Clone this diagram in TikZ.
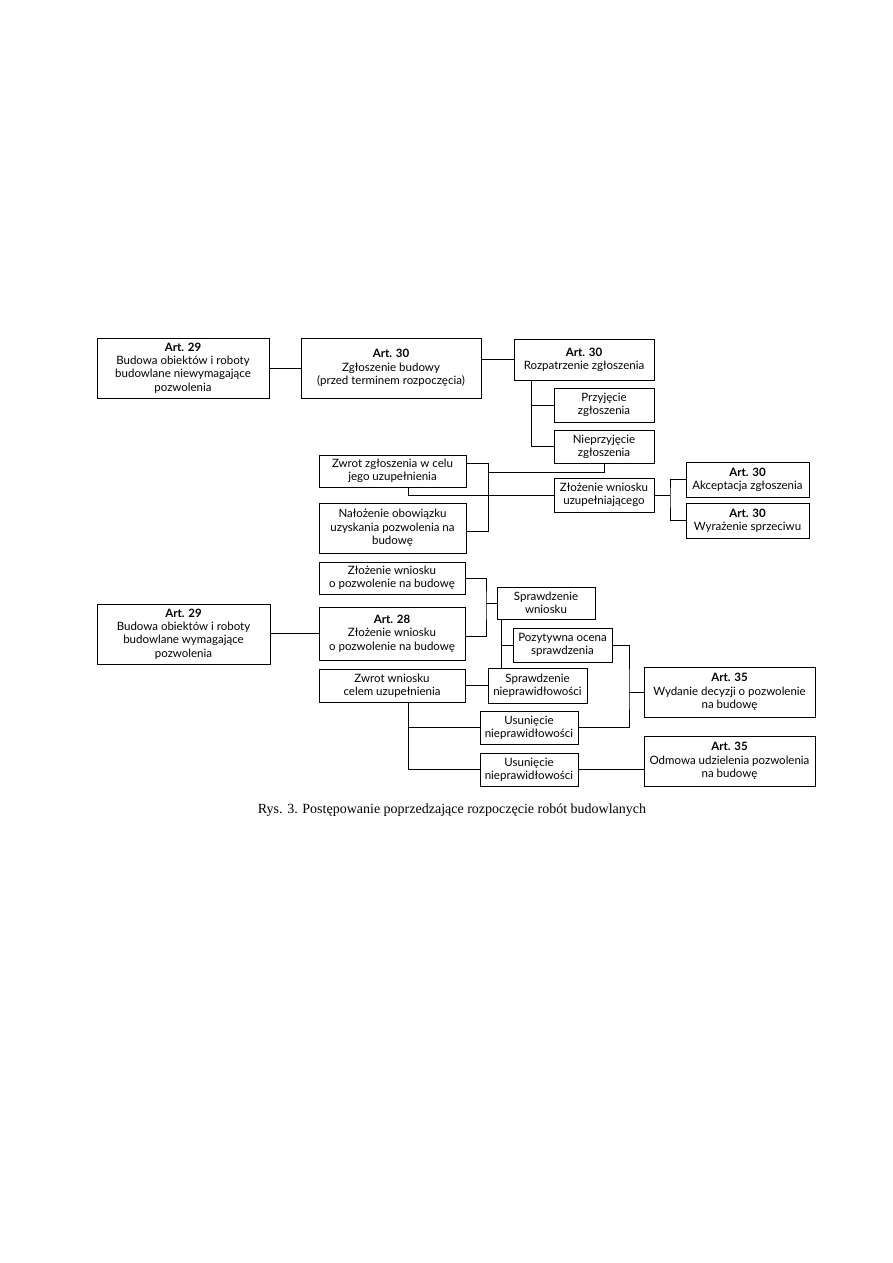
\documentclass[tikz,border=0pt]{standalone}
\usepackage{fontspec}
\setmainfont{Lato}
\newfontfamily\capfont{Liberation Serif}
\begin{document}
\begin{tikzpicture}[x=1pt,y=-1pt,
  box/.style={draw, line width=0.9pt, align=center, inner sep=0pt,
    font=\fontsize{11.5}{13.3}\selectfont},
  ln/.style={line width=0.8pt}]
\useasboundingbox (0,0) rectangle (893,1263);
\fill[white] (0,0) rectangle (893,1263);
% ---------- upper part ----------
\node[box, minimum width=172pt, minimum height=60pt] (A) at (183,368)
  {\textbf{Art. 29}\\Budowa obiektów i roboty\\budowlane niewymagające\\pozwolenia};
\node[box, minimum width=180pt, minimum height=60pt] (B) at (391,368)
  {\textbf{Art. 30}\\Zgłoszenie budowy\\(przed terminem rozpoczęcia)};
\node[box, minimum width=140pt, minimum height=41pt] (C) at (584,359.5)
  {\textbf{Art. 30}\\Rozpatrzenie zgłoszenia};
\node[box, minimum width=100pt, minimum height=34pt] (D) at (604,405)
  {Przyjęcie\\zgłoszenia};
\node[box, minimum width=100pt, minimum height=33pt] (E) at (604,446.5)
  {Nieprzyjęcie\\zgłoszenia};
\node[box, minimum width=147pt, minimum height=32pt] (F) at (392.5,471)
  {Zwrot zgłoszenia w celu\\jego uzupełnienia};
\node[box, minimum width=147pt, minimum height=50pt] (G) at (392.5,528)
  {Nałożenie obowiązku\\uzyskania pozwolenia na\\budowę};
\node[box, minimum width=100pt, minimum height=34pt] (H) at (604,495)
  {Złożenie wniosku\\uzupełniającego};
\node[box, minimum width=123pt, minimum height=35pt] (I) at (747.5,479.5)
  {\textbf{Art. 30}\\Akceptacja zgłoszenia};
\node[box, minimum width=123pt, minimum height=35pt] (J) at (747.5,520.5)
  {\textbf{Art. 30}\\Wyrażenie sprzeciwu};
% ---------- lower part ----------
\node[box, minimum width=173pt, minimum height=60pt] (K) at (183.5,634)
  {\textbf{Art. 29}\\Budowa obiektów i roboty\\budowlane wymagające\\pozwolenia};
\node[box, minimum width=146pt, minimum height=32pt] (L) at (392,578)
  {Złożenie wniosku\\o pozwolenie na budowę};
\node[box, minimum width=146pt, minimum height=53pt] (M) at (392,633.5)
  {\textbf{Art. 28}\\Złożenie wniosku\\o pozwolenie na budowę};
\node[box, minimum width=98pt, minimum height=32pt] (N) at (546,603)
  {Sprawdzenie\\wniosku};
\node[box, minimum width=99pt, minimum height=34pt] (O) at (562.5,645)
  {Pozytywna ocena\\sprawdzenia};
\node[box, minimum width=146pt, minimum height=33pt] (P) at (392,685.5)
  {Zwrot wniosku\\celem uzupełnienia};
\node[box, minimum width=99pt, minimum height=35pt] (Q) at (537.5,685.5)
  {Sprawdzenie\\nieprawidłowości};
\node[box, minimum width=98pt, minimum height=33pt] (R) at (529,727.5)
  {Usunięcie\\nieprawidłowości};
\node[box, minimum width=98pt, minimum height=33pt] (S) at (529,769.5)
  {Usunięcie\\nieprawidłowości};
\node[box, minimum width=171pt, minimum height=50pt] (T) at (729.5,692)
  {\textbf{Art. 35}\\Wydanie decyzji o pozwolenie\\na budowę};
\node[box, minimum width=171pt, minimum height=50pt] (U) at (729.5,761)
  {\textbf{Art. 35}\\Odmowa udzielenia pozwolenia\\na budowę};
\node[font=\capfont\fontsize{14}{16}\selectfont, inner sep=0pt] (cap) at (452,810)
  {Rys. 3. Postępowanie poprzedzające rozpoczęcie robót budowlanych};
% ---------- helper coordinates ----------
\coordinate (cv) at (531,0);
\coordinate (bus) at (488,531);
\coordinate (j1) at (488,472);
\coordinate (fx) at (408,0);
\coordinate (hj) at (670,495);
\coordinate (nb) at (486,603);
\coordinate (nx) at (501,0);
\coordinate (oj) at (629,692);
\coordinate (px) at (408,0);
% ---------- connectors ----------
\draw[ln] (A.east) -- (B.west|-A.east);
\draw[ln] (B.east|-C.west) -- (C.west);
\draw[ln] (C.south-|cv) |- (E.west);
\draw[ln] (cv|-D.west) -- (D.west);
\draw[ln] ([yshift=8pt]F.east) -| (bus) -- ([yshift=-3pt]G.east);
\draw[ln] (E.south) |- (j1);
\draw[ln] (F.south-|fx) |- (H.west);
\draw[ln] (H.east) -- (hj);
\draw[ln] (I.west) -| (hj) |- (J.west);
\draw[ln] (K.east|-M.west) -- (M.west);
\draw[ln] (L.east) -| (nb) |- ([yshift=-2.5pt]M.east);
\draw[ln] (nb) -- (N.west);
\draw[ln] (N.south-|nx) -- (Q.north-|nx);
\draw[ln] (nx|-O.west) -- (O.west);
\draw[ln] (P.east) -- (Q.west);
\draw[ln] (O.east) -| (oj) |- (R.east);
\draw[ln] (oj) -- (T.west);
\draw[ln] (P.south-|px) |- (S.west);
\draw[ln] (px|-R.west) -- (R.west);
\draw[ln] (S.east) -- (S.east-|U.west);
\end{tikzpicture}
\end{document}
